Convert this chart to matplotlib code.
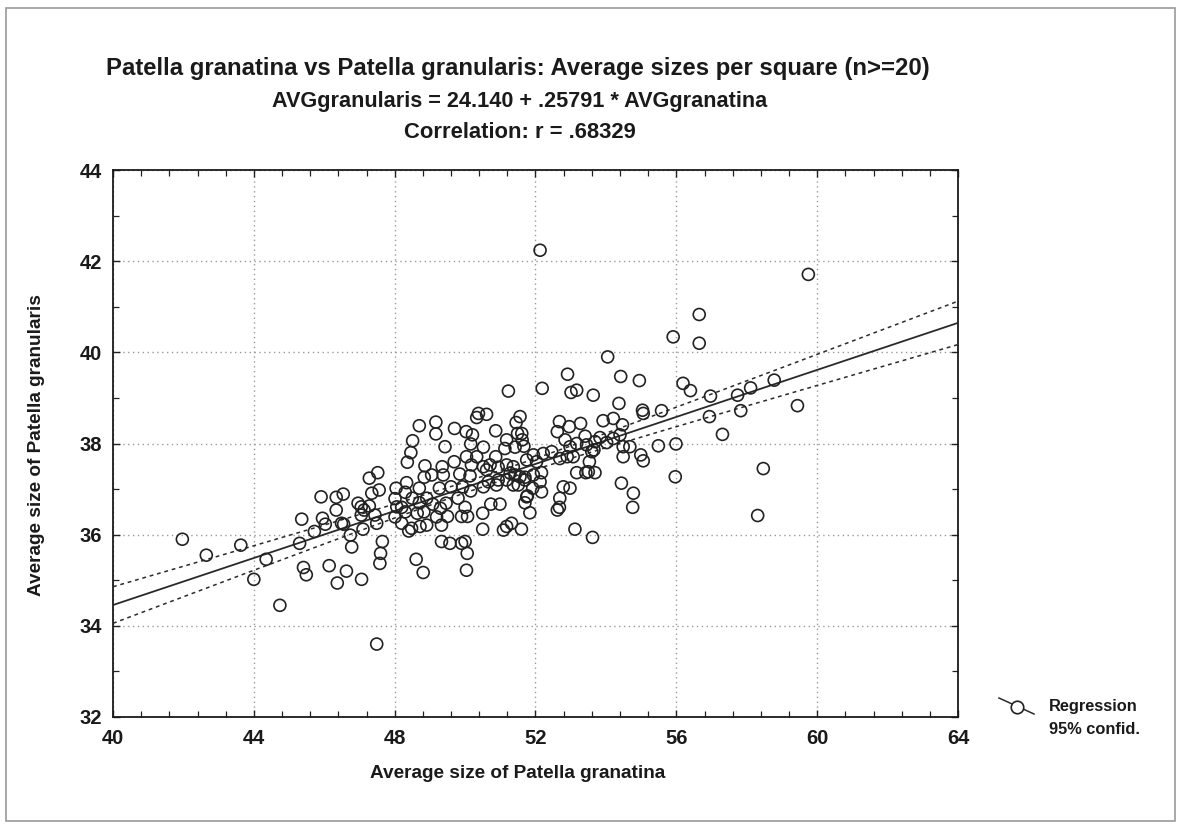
import numpy as np
import matplotlib
matplotlib.use("Agg")
import matplotlib.pyplot as plt
from matplotlib.lines import Line2D
from matplotlib.patches import Rectangle
from matplotlib.ticker import MultipleLocator

# Average sizes per square (n >= 20)
granatina = [
    41.97, 42.65, 43.63, 44.35, 44.00, 44.74, 45.30, 45.36, 45.91, 45.95,
    45.72, 46.03, 45.41, 45.49, 46.14, 46.37, 46.63, 46.34, 46.54, 46.34,
    46.55, 46.74, 46.78, 47.06, 46.96, 47.05, 47.05, 47.10, 47.49, 51.23,
    50.38, 50.61, 50.33, 51.56, 51.45, 48.70, 49.17, 49.17, 49.70, 50.03,
    50.21, 50.87, 51.49, 51.62, 48.51, 48.46, 48.36, 49.43, 50.16, 50.52,
    51.13, 51.42, 50.04, 50.33, 50.87, 48.86, 49.69, 49.35, 50.52, 50.71,
    48.84, 49.05, 49.38, 49.85, 50.14, 47.52, 47.28, 47.56, 47.35, 48.04,
    48.34, 48.70, 49.27, 49.60, 49.93, 50.16, 50.66, 50.89, 51.18, 51.51,
    51.70, 47.28, 47.44, 47.49, 48.01, 48.06, 48.20, 48.30, 48.50, 48.70,
    48.64, 48.83, 48.01, 48.20, 48.48, 48.72, 48.91, 48.40, 49.08, 49.46,
    49.30, 49.50, 49.80, 50.00, 49.90, 50.07, 49.33, 50.50, 50.73, 50.99,
    50.50, 51.09, 51.18, 51.32, 51.60, 51.70, 49.33, 49.57, 49.90, 50.00,
    50.06, 50.04, 47.65, 47.60, 47.58, 48.61, 48.81, 52.13, 56.65, 55.91,
    56.65, 54.05, 52.91, 54.42, 54.95, 52.19, 53.01, 53.17, 53.64, 56.19,
    56.40, 54.37, 56.97, 57.74, 55.04, 55.06, 55.58, 56.94, 57.83, 52.68,
    52.96, 53.28, 53.92, 54.21, 54.47, 59.75, 58.11, 58.78, 59.44, 57.31,
    58.47, 58.31, 54.40, 54.21, 53.83, 53.41, 53.69, 53.17, 52.98, 53.45,
    53.60, 54.49, 54.68, 54.49, 55.49, 55.99, 54.99, 55.06, 53.07, 53.53,
    53.50, 53.17, 53.43, 53.69, 52.98, 54.44, 54.78, 54.76, 55.97, 53.12,
    53.62, 51.61, 51.18, 51.67, 52.62, 52.84, 54.02, 51.94, 52.22, 52.46,
    51.75, 52.03, 52.69, 52.90, 53.66, 51.37, 51.56, 51.28, 51.94, 52.17,
    52.13, 51.92, 52.17, 51.75, 52.69, 52.68, 52.62, 51.84, 51.18, 50.18,
    50.61, 50.94, 50.52, 50.94, 51.42, 51.37, 51.70, 51.77, 47.13, 48.30,
    48.91, 49.19, 46.49, 52.79,
]
granularis = [
    35.90, 35.55, 35.77, 35.46, 35.02, 34.45, 35.81, 36.34, 36.83, 36.36,
    36.07, 36.23, 35.28, 35.12, 35.32, 34.94, 35.20, 36.82, 36.89, 36.54,
    36.23, 35.99, 35.73, 35.02, 36.69, 36.61, 36.43, 36.12, 33.60, 39.15,
    38.66, 38.64, 38.57, 38.59, 38.46, 38.39, 38.47, 38.21, 38.33, 38.26,
    38.19, 38.28, 38.22, 38.08, 38.06, 37.80, 37.59, 37.93, 37.99, 37.92,
    37.89, 37.92, 37.71, 37.71, 37.71, 37.51, 37.60, 37.49, 37.49, 37.53,
    37.26, 37.31, 37.31, 37.33, 37.29, 37.36, 37.24, 36.98, 36.91, 37.02,
    37.14, 37.02, 37.02, 37.05, 37.05, 36.96, 37.16, 37.09, 37.20, 37.09,
    37.20, 36.63, 36.43, 36.25, 36.79, 36.61, 36.60, 36.50, 36.80, 36.70,
    36.47, 36.50, 36.39, 36.25, 36.14, 36.18, 36.21, 36.08, 36.67, 36.69,
    36.58, 36.40, 36.80, 36.60, 36.40, 36.40, 36.21, 36.47, 36.67, 36.67,
    36.12, 36.10, 36.18, 36.25, 36.12, 36.70, 35.85, 35.81, 35.81, 35.85,
    35.59, 35.22, 35.85, 35.59, 35.37, 35.46, 35.17, 42.24, 40.83, 40.34,
    40.20, 39.90, 39.52, 39.47, 39.38, 39.21, 39.12, 39.17, 39.06, 39.32,
    39.16, 38.88, 39.04, 39.06, 38.73, 38.66, 38.72, 38.59, 38.72, 38.48,
    38.37, 38.44, 38.50, 38.55, 38.41, 41.71, 39.22, 39.39, 38.83, 38.20,
    37.45, 36.42, 38.19, 38.11, 38.13, 38.16, 38.04, 38.00, 37.93, 37.97,
    37.82, 37.93, 37.93, 37.71, 37.95, 37.99, 37.75, 37.62, 37.71, 37.60,
    37.38, 37.36, 37.36, 37.36, 37.02, 37.13, 36.91, 36.60, 37.27, 36.12,
    35.94, 38.22, 38.08, 37.94, 38.26, 38.08, 38.02, 37.75, 37.78, 37.82,
    37.64, 37.60, 37.67, 37.71, 37.86, 37.49, 37.27, 37.35, 37.31, 37.36,
    37.16, 37.02, 36.94, 36.83, 36.80, 36.60, 36.54, 36.48, 37.53, 37.53,
    37.42, 37.48, 37.05, 37.20, 37.31, 37.09, 37.26, 36.85, 36.54, 36.93,
    36.80, 36.39, 36.25, 37.05,
]

# Fitted regression (from the equation in the title)
intercept = 24.140
slope = 0.25791
r_value = ".68329"

x_ticks = [40, 44, 48, 52, 56, 60, 64]
y_ticks = [32, 34, 36, 38, 40, 42, 44]

FONT = "Liberation Sans"
INK = "#1a1a1a"
W, H = 1179, 825

fig = plt.figure(figsize=(W / 100, H / 100), dpi=100)
fig.patch.set_facecolor("white")

# thin grey frame around the whole chart
fig.add_artist(Rectangle((6 / W, 4 / H), (W - 10) / W, (H - 12) / H,
                         transform=fig.transFigure, fill=False,
                         edgecolor="#9a9a9a", linewidth=1.2))

ax = fig.add_axes([113 / W, 1 - 717 / H, (958 - 113) / W, (717 - 170) / H])

x = np.asarray(granatina)
y = np.asarray(granularis)

# regression line and 95% confidence band of the mean
xs = np.linspace(40, 64, 200)
fit = intercept + slope * xs
n = len(x)
resid = y - (intercept + slope * x)
s = np.sqrt(np.sum(resid ** 2) / (n - 2))
sxx = np.sum((x - x.mean()) ** 2)
half = 1.97 * s * np.sqrt(1.0 / n + (xs - x.mean()) ** 2 / sxx)

ax.plot(xs, fit, color="#2a2a2a", lw=1.3, zorder=3)
ax.plot(xs, fit + half, color="#2a2a2a", lw=1.1, ls=(0, (2.5, 2.5)), zorder=3)
ax.plot(xs, fit - half, color="#2a2a2a", lw=1.1, ls=(0, (2.5, 2.5)), zorder=3)

ax.scatter(x, y, s=74, facecolors="none", edgecolors="#222222",
           linewidths=1.2, zorder=4)

ax.set_xlim(40, 64)
ax.set_ylim(32, 44)
ax.set_xticks(x_ticks)
ax.set_yticks(y_ticks)
ax.xaxis.set_minor_locator(MultipleLocator(0.8))
ax.yaxis.set_minor_locator(MultipleLocator(1))
ax.tick_params(which="both", direction="in", top=True, right=True,
               colors="#222222")
ax.tick_params(which="major", length=5, width=1)
ax.tick_params(axis="x", which="major", pad=9)
ax.tick_params(axis="y", which="major", pad=8)
ax.tick_params(which="minor", length=4, width=0.9)
for lab in ax.get_xticklabels() + ax.get_yticklabels():
    lab.set_fontfamily(FONT)
    lab.set_fontweight("bold")
    lab.set_fontsize(14.5)
    lab.set_color(INK)
ax.grid(True, which="major", color="#9a9a9a", linestyle=(0, (1, 2.5)), lw=1)
for sp in ax.spines.values():
    sp.set_color(INK)
    sp.set_linewidth(1.3)

fig.text(518 / W, 1 - 774 / H, "Average size of Patella granatina",
         ha="center", va="center", fontfamily=FONT, fontweight="bold",
         fontsize=13.7, color=INK)
fig.text(37 / W, 1 - 445 / H, "Average size of Patella granularis",
         ha="center", va="center", rotation=90, fontfamily=FONT,
         fontweight="bold", fontsize=13.7, color=INK)

fig.text(518 / W, 1 - 68 / H,
         "Patella granatina vs Patella granularis: Average sizes per square (n>=20)",
         ha="center", va="center", fontfamily=FONT, fontweight="bold",
         fontsize=17.2, color=INK)
fig.text(520 / W, 1 - 101 / H,
         f"AVGgranularis = {intercept:.3f} + {str(slope)[1:]} * AVGgranatina",
         ha="center", va="center", fontfamily=FONT, fontweight="bold",
         fontsize=15.6, color=INK)
fig.text(520 / W, 1 - 133 / H, f"Correlation: r = {r_value}",
         ha="center", va="center", fontfamily=FONT, fontweight="bold",
         fontsize=15.8, color=INK)

# legend key drawn in figure coordinates
fig.add_artist(Line2D([999 / W, 1034 / W], [1 - 698 / H, 1 - 714 / H],
                      transform=fig.transFigure, color="#2a2a2a", lw=1.1))
fig.add_artist(Line2D([1017 / W], [1 - 706.5 / H], transform=fig.transFigure,
                      marker="o", markersize=9, markerfacecolor="white",
                      markeredgecolor="#222222", markeredgewidth=1.2))
fig.text(1049 / W, 1 - 707 / H, "Regression", ha="left", va="center",
         fontfamily=FONT, fontweight="bold", fontsize=11.8, color=INK)
fig.text(1049 / W, 1 - 729 / H, "95% confid.", ha="left", va="center",
         fontfamily=FONT, fontweight="bold", fontsize=11.8, color=INK)

fig.savefig("out.png", dpi=100, facecolor="white")
